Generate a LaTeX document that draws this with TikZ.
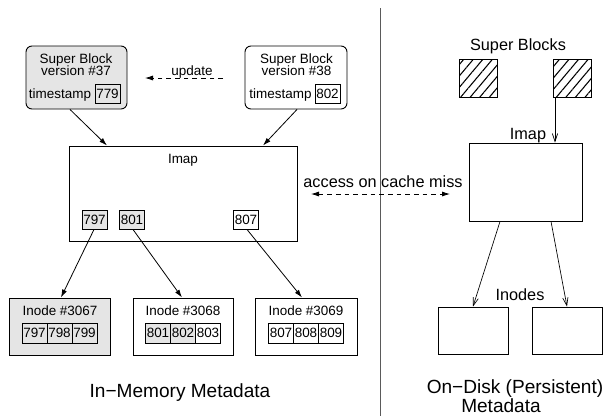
\documentclass[tikz,border=0pt]{standalone}
\usepackage{fontspec}
\setmainfont{Liberation Sans}
\usetikzlibrary{arrows.meta,patterns.meta}
\definecolor{gfill}{RGB}{229,229,229}
\definecolor{divcol}{RGB}{90,90,90}
\begin{document}
\begin{tikzpicture}[x=0.75pt,y=-0.75pt,
  fs/.style={font=\fontsize{10.1}{12}\selectfont},
  fm/.style={font=\fontsize{12.2}{14}\selectfont},
  fl/.style={font=\fontsize{14.3}{17}\selectfont},
  lbl/.style={inner sep=0pt,anchor=base},
  sbbox/.style={draw,line width=0.7pt,rounded corners=4.5pt,minimum width=75.75pt,minimum height=47.25pt,inner sep=0pt},
  numbox/.style={draw,line width=0.7pt,fs,inner sep=0pt,minimum width=18.75pt,minimum height=14.25pt},
  cell/.style={draw,line width=0.6pt,fs,inner sep=0pt,minimum width=18.75pt,minimum height=15pt},
  plainbox/.style={draw,line width=0.7pt,inner sep=0pt},
  inodebox/.style={plainbox,minimum height=42.75pt},
  hatch/.style={draw,line width=0.7pt,inner sep=0pt,minimum width=28.5pt,minimum height=28.5pt,pattern={Lines[angle=50,distance=5.5pt,line width=0.8pt]}},
  arr/.style={line width=0.6pt,-{Latex[length=6pt,width=3.8pt]}},
  openarr/.style={line width=0.5pt,-{Straight Barb[length=6pt,width=4pt]}},
  dsh/.style={dash pattern=on 3.5pt off 3pt}
]
\useasboundingbox (0,0) rectangle (603,418);

% ---------- In-memory side ----------
\node[sbbox,fill=gfill] (sb37) at (76.5,77.5) {};
\node[lbl,fs] (sb37a) at (76,63) {Super Block};
\node[lbl,fs] (sb37b) at (76,75) {version \#37};
\node[lbl,fs] (sb37c) at (60,98) {timestamp};
\node[numbox] (ts37) at (107.5,93.5) {779};

\node[sbbox,minimum width=76.5pt] (sb38) at (296,77.5) {};
\node[lbl,fs] (sb38a) at (296.5,63) {Super Block};
\node[lbl,fs] (sb38b) at (296.5,75) {version \#38};
\node[lbl,fs] (sb38c) at (280.5,98) {timestamp};
\node[numbox] (ts38) at (327.5,93.5) {802};

\coordinate (updR) at (223,78);
\coordinate (updL) at (145,78);
\draw[arr,dsh] (updR) -- (updL);
\node[lbl,fs] (updlbl) at (192,75) {update};

\node[plainbox,minimum width=171pt,minimum height=71.25pt] (imapL) at (183,193.5) {};
\node[lbl,fs] (imapLt) at (183,163) {Imap};
\node[numbox,fill=gfill] (e797) at (94.5,219.5) {797};
\node[numbox,fill=gfill] (e801) at (132,219.5) {801};
\node[numbox] (e807) at (246,219.5) {807};

\draw[arr] (sb37.south -| 70,0) -- (imapL.north -| 107,0);
\draw[arr] (sb38.south -| 297,0) -- (imapL.north -| 263,0);

% inodes
\node[inodebox,fill=gfill,minimum width=75.75pt] (in67) at (59.5,326.5) {};
\node[lbl,fs] at (60,315) {Inode \#3067};
\node[cell,fill=gfill] (c797) at (34.5,333) {797};
\node[cell,fill=gfill] (c798) at (59.5,333) {798};
\node[cell,fill=gfill] (c799) at (84.5,333) {799};

\node[inodebox,minimum width=75pt] (in68) at (183,326.5) {};
\node[lbl,fs] at (183,315) {Inode \#3068};
\node[cell,fill=gfill] (c801) at (158,333) {801};
\node[cell,fill=gfill] (c802) at (183,333) {802};
\node[cell] (c803) at (208,333) {803};

\node[inodebox,minimum width=76.5pt] (in69) at (306,326.5) {};
\node[lbl,fs] at (306,315) {Inode \#3069};
\node[cell] (c807) at (281,333) {807};
\node[cell] (c808) at (306,333) {808};
\node[cell] (c809) at (331,333) {809};

\draw[arr] (e797.south -| 94,0) -- (in67.north -| 61,0);
\draw[arr] (e801.south -| 133,0) -- (in68.north -| 182,0);
\draw[arr] (e807.south -| 247,0) -- (in69.north -| 302,0);

\node[lbl,fl] (memlbl) at (180,397) {In−Memory Metadata};

% ---------- divider ----------
\coordinate (divT) at (380,8);
\coordinate (divB) at (380,416);
\draw[divcol,line width=0.6pt] (divT) -- (divB);

% ---------- On-disk side ----------
\node[lbl,fm] (sblbl) at (518,50) {Super Blocks};
\node[hatch] (hs1) at (478,78) {};
\node[hatch] (hs2) at (572,78) {};
\node[plainbox,minimum width=84.75pt,minimum height=58.5pt] (imapR) at (525.5,182) {};
\node[lbl,fm] (imapRt) at (528,139) {Imap};
\draw[openarr] (hs2.south -| 555,0) -- (imapR.north -| 555,0);

\node[inodebox,minimum width=52.5pt,minimum height=35.25pt] (di1) at (473,330.5) {};
\node[inodebox,minimum width=52.5pt,minimum height=35.25pt] (di2) at (567,330.5) {};
\node[lbl,fm] (inlbl) at (520,300) {Inodes};
\draw[openarr] (imapR.south -| 500,0) -- (di1.north -| 473,0);
\draw[openarr] (imapR.south -| 551,0) -- (di2.north -| 567,0);

\node[lbl,fl] (disklbl1) at (515,393) {On−Disk (Persistent)};
\node[lbl,fl] (disklbl2) at (501,412) {Metadata};

% access arrow
\node[lbl,fm] (acclbl) at (383,187) {access on cache miss};
\coordinate (accL) at (311,194);
\coordinate (accR) at (450,194);
\draw[line width=0.6pt,dsh,{Latex[length=6pt,width=3.8pt]}-{Latex[length=6pt,width=3.8pt]}] (accL) -- (accR);
\end{tikzpicture}
\end{document}
